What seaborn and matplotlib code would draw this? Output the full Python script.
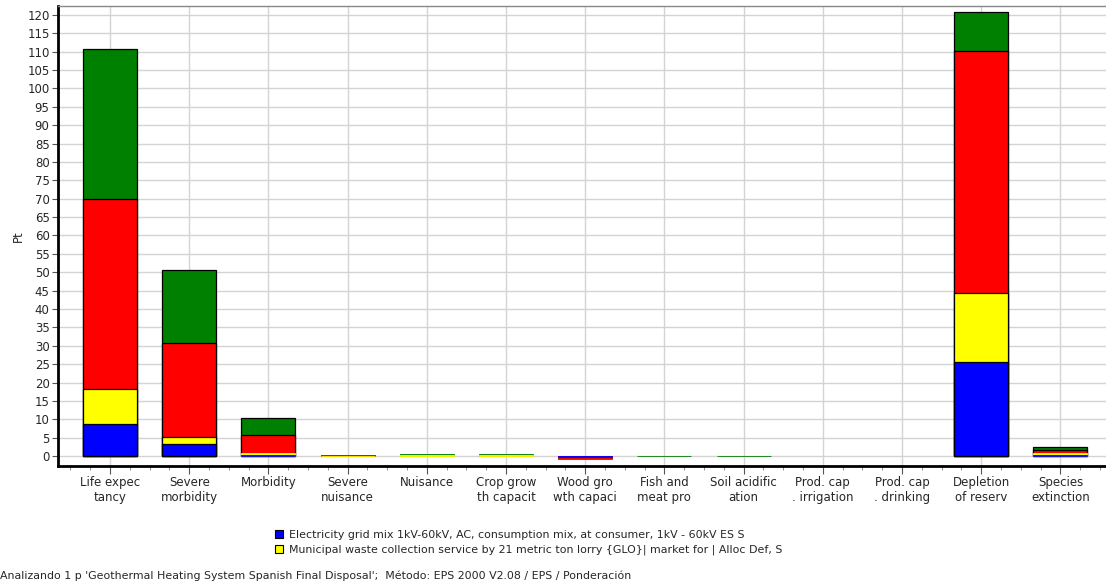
import matplotlib
matplotlib.use("Agg")
import matplotlib.pyplot as plt
import matplotlib.patches as mpatches
from matplotlib.ticker import MultipleLocator
import numpy as np
import pandas as pd
import seaborn as sns

categories = [
    "Life expec\ntancy", "Severe\nmorbidity", "Morbidity", "Severe\nnuisance",
    "Nuisance", "Crop grow\nth capacit", "Wood gro\nwth capaci", "Fish and\nmeat pro",
    "Soil acidific\nation", "Prod. cap\n. irrigation", "Prod. cap\n. drinking",
    "Depletion\nof reserv", "Species\nextinction",
]
series_names = [
    "Electricity grid mix 1kV-60kV, AC, consumption mix, at consumer, 1kV - 60kV ES S",
    "Municipal waste collection service by 21 metric ton lorry {GLO}| market for | Alloc Def, S",
    "Process 3",
    "Process 4",
]
blue = [8.6, 3.4, 0.4, 0.0, 0.0, 0.0, -0.2, 0.0, 0.0, 0.0, 0.0, 25.5, 0.4]
yellow = [9.6, 1.8, 0.4, 0.05, 0.3, 0.2, 0.0, 0.0, 0.0, 0.0, 0.0, 18.8, 0.4]
red = [51.7, 25.6, 5.0, 0.2, 0.0, 0.2, -0.4, 0.0, 0.0, 0.0, 0.0, 65.8, 0.9]
green = [40.8, 19.8, 4.5, 0.05, 0.3, 0.1, -0.3, 0.08, 0.08, 0.0, 0.0, 10.7, 0.8]
colors = ["#0000ff", "#ffff00", "#ff0000", "#008000"]

sns.set_theme(style="white")
plt.rcParams["font.family"] = ["DejaVu Sans"]

fig = plt.figure(figsize=(11.06, 5.84), dpi=100)
ax = fig.add_axes([0.0524, 0.202, 0.9476, 0.7877])

values = np.array([blue, yellow, red, green])
stack = np.cumsum(values, axis=0)
# draw cumulative totals from top down so the layers stack
for k in range(3, -1, -1):
    n_before = len(ax.patches)
    df = pd.DataFrame({"cat": categories, "val": stack[k]})
    sns.barplot(data=df, x="cat", y="val", color=colors[k], saturation=1,
                width=0.68, edgecolor="black", linewidth=0.9, ax=ax, zorder=3)
    for i, p in enumerate(ax.patches[n_before:]):
        if values[k][i] == 0:
            p.set_visible(False)
        elif abs(p.get_height()) < 1.0:
            p.set_edgecolor(p.get_facecolor())
            p.set_linewidth(0.6)

ax.set_xlim(-0.657, 12.576)
ax.set_ylim(-2.7, 122.4)
ax.yaxis.set_major_locator(MultipleLocator(5))
ax.xaxis.set_minor_locator(MultipleLocator(0.25))
ax.grid(True, axis="both", color="#d4d4d4", linewidth=1.0, zorder=0)
ax.set_axisbelow(True)

ax.set_xlabel("")
ax.set_ylabel("Pt", fontsize=8.5, labelpad=2)
ax.tick_params(axis="x", which="major", length=6, width=0.8, color="#555555",
               labelsize=8.5, pad=1, bottom=True)
ax.tick_params(axis="x", which="minor", length=3, width=0.6, color="#777777", bottom=True)
ax.tick_params(axis="y", which="major", length=4, width=0.8, color="#555555",
               labelsize=8.5, pad=2, left=True)

for side in ["left", "bottom"]:
    ax.spines[side].set_color("black")
    ax.spines[side].set_linewidth(2)
ax.spines["top"].set_color("#888888")
ax.spines["top"].set_linewidth(1)
ax.spines["right"].set_visible(False)

handles = [mpatches.Patch(facecolor=colors[i], edgecolor="black", linewidth=0.8,
                          label=series_names[i]) for i in range(2)]
fig.legend(handles=handles, loc="upper left", bbox_to_anchor=(0.244, 0.102),
           frameon=False, fontsize=7.9, handlelength=0.7, handleheight=0.7,
           handletextpad=0.5, labelspacing=0.45, borderpad=0)

fig.text(0.0, 0.005, "Analizando 1 p 'Geothermal Heating System Spanish Final Disposal';  "
         "Método: EPS 2000 V2.08 / EPS / Ponderación", fontsize=7.9, ha="left", va="bottom")

fig.savefig("out.png", dpi=100)
